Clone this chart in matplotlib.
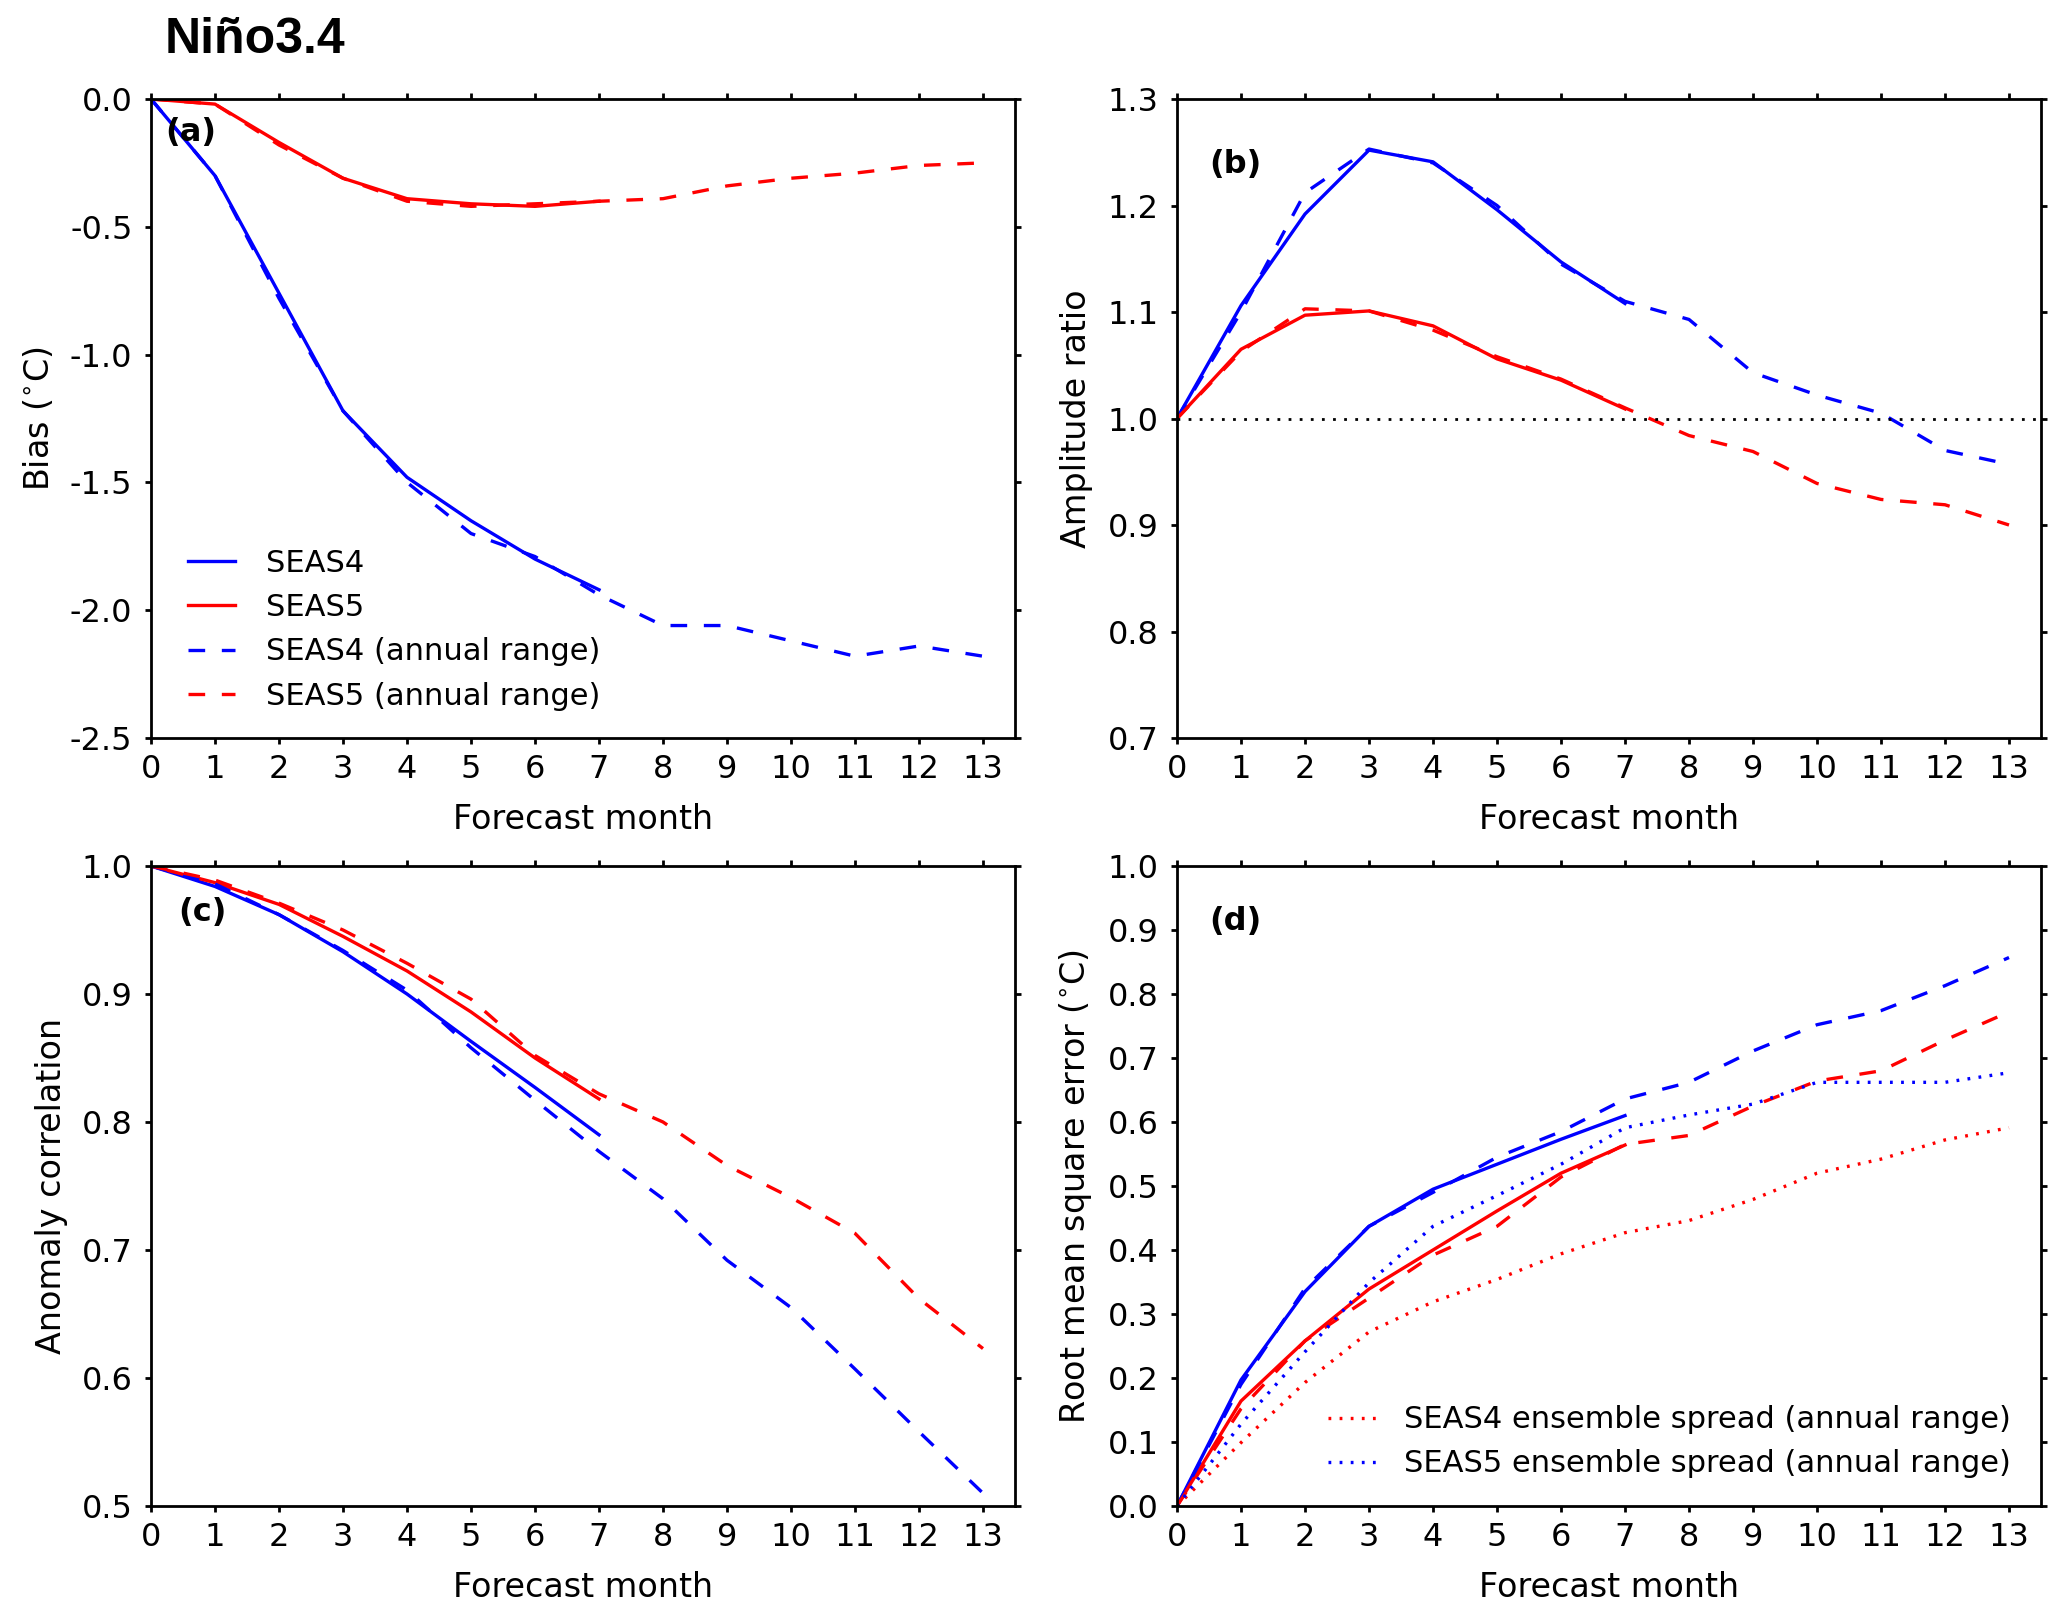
import matplotlib
matplotlib.use("Agg")
import matplotlib.pyplot as plt
import numpy as np

plt.rcParams['font.family'] = ['DejaVu Sans']
plt.rcParams['axes.unicode_minus'] = False
plt.rcParams['lines.scale_dashes'] = False

# ---------------- data ----------------
months = [0, 1, 2, 3, 4, 5, 6, 7]
months_ext = [0, 1, 2, 3, 4, 5, 6, 7, 8, 9, 10, 11, 12, 13]
xticks = list(range(14))

# (a) bias
bias_s4 = [0.0, -0.30, -0.76, -1.22, -1.48, -1.65, -1.80, -1.92]
bias_s5 = [0.0, -0.02, -0.17, -0.31, -0.39, -0.41, -0.42, -0.40]
bias_s4_ann = [0.0, -0.30, -0.78, -1.22, -1.50, -1.70, -1.79, -1.94, -2.06, -2.06, -2.12, -2.18, -2.14, -2.18]
bias_s5_ann = [0.0, -0.02, -0.18, -0.31, -0.40, -0.42, -0.41, -0.40, -0.39, -0.34, -0.31, -0.29, -0.26, -0.25]

# (b) amplitude ratio
amp_s4 = [1.0, 1.106, 1.192, 1.252, 1.241, 1.196, 1.147, 1.108]
amp_s5 = [1.0, 1.065, 1.097, 1.101, 1.087, 1.056, 1.036, 1.009]
amp_s4_ann = [1.0, 1.10, 1.212, 1.253, 1.240, 1.200, 1.145, 1.110, 1.093, 1.043, 1.022, 1.005, 0.970, 0.957]
amp_s5_ann = [1.0, 1.063, 1.103, 1.101, 1.083, 1.058, 1.037, 1.010, 0.984, 0.969, 0.939, 0.924, 0.919, 0.900]

# (c) anomaly correlation
acc_s4 = [1.0, 0.984, 0.962, 0.933, 0.900, 0.863, 0.827, 0.790]
acc_s5 = [1.0, 0.987, 0.970, 0.945, 0.918, 0.886, 0.850, 0.818]
acc_s4_ann = [1.0, 0.986, 0.962, 0.934, 0.903, 0.858, 0.817, 0.777, 0.740, 0.692, 0.655, 0.607, 0.558, 0.510]
acc_s5_ann = [1.0, 0.989, 0.971, 0.950, 0.924, 0.896, 0.852, 0.822, 0.800, 0.766, 0.741, 0.713, 0.662, 0.623]

# (d) RMSE and spread
rmse_s4 = [0.0, 0.197, 0.335, 0.437, 0.495, 0.534, 0.573, 0.610]
rmse_s5 = [0.0, 0.164, 0.258, 0.339, 0.400, 0.461, 0.520, 0.564]
rmse_s4_ann = [0.0, 0.190, 0.340, 0.437, 0.490, 0.545, 0.585, 0.636, 0.662, 0.711, 0.752, 0.774, 0.813, 0.857]
rmse_s5_ann = [0.0, 0.152, 0.258, 0.325, 0.392, 0.437, 0.514, 0.565, 0.579, 0.625, 0.664, 0.680, 0.728, 0.772]
spread_s4_ann = [0.0, 0.099, 0.193, 0.272, 0.319, 0.354, 0.394, 0.427, 0.446, 0.479, 0.520, 0.542, 0.572, 0.591]
spread_s5_ann = [0.0, 0.128, 0.241, 0.349, 0.437, 0.485, 0.534, 0.591, 0.611, 0.628, 0.662, 0.662, 0.662, 0.677]

BLUE = '#0000ff'
RED = '#ff0000'
LW = 1.2
DASH = (6, 6)
DOT = (1, 3)
TICK_FS = 11.5
LAB_FS = 12
LEG_FS = 11

fig = plt.figure(figsize=(2067 / 200, 1616 / 200), dpi=200)

W, H = 2067.0, 1616.0
def rect(l, r, t, b):
    return [l / W, 1 - b / H, (r - l) / W, (b - t) / H]

ax_a = fig.add_axes(rect(151, 1015, 99, 738))
ax_b = fig.add_axes(rect(1177, 2041, 99, 738))
ax_c = fig.add_axes(rect(151, 1015, 866, 1506))
ax_d = fig.add_axes(rect(1177, 2041, 866, 1506))

def style(ax, ylim, yticks, ylabel, fmt='%.1f'):
    ax.set_xlim(0, 13.5)
    ax.set_ylim(*ylim)
    ax.set_xticks(xticks)
    ax.set_yticks(yticks)
    ax.set_yticklabels([fmt % v for v in yticks])
    ax.tick_params(direction='out', length=2.2, width=1, labelsize=TICK_FS,
                   top=True, right=True, pad=3.5)
    ax.tick_params(axis='y', pad=4.5)
    for s in ax.spines.values():
        s.set_linewidth(1.0)
    ax.set_xlabel('Forecast month', fontsize=LAB_FS, labelpad=6.5)
    ax.set_ylabel(ylabel, fontsize=LAB_FS, labelpad=5)

# (a)
ax_a.plot(months, bias_s4, color=BLUE, lw=LW, label='SEAS4')
ax_a.plot(months, bias_s5, color=RED, lw=LW, label='SEAS5')
ax_a.plot(months_ext, bias_s4_ann, color=BLUE, lw=LW, dashes=DASH, label='SEAS4 (annual range)')
ax_a.plot(months_ext, bias_s5_ann, color=RED, lw=LW, dashes=DASH, label='SEAS5 (annual range)')
style(ax_a, (-2.5, 0.0), np.arange(-2.5, 0.01, 0.5), r'Bias ($^{\circ}$C)')
ax_a.legend(loc='lower left', bbox_to_anchor=(0.011, 0.0), frameon=False,
            fontsize=LEG_FS, handlelength=1.55, handletextpad=1.0, labelspacing=0.5)
ax_a.text(0.016, 0.947, '(a)', transform=ax_a.transAxes, fontsize=11.5,
          fontweight='bold', va='center', ha='left')

# (b)
ax_b.plot(months, amp_s4, color=BLUE, lw=LW)
ax_b.plot(months, amp_s5, color=RED, lw=LW)
ax_b.plot(months_ext, amp_s4_ann, color=BLUE, lw=LW, dashes=DASH)
ax_b.plot(months_ext, amp_s5_ann, color=RED, lw=LW, dashes=DASH)
ax_b.axhline(1.0, color='black', lw=1.0, dashes=DOT)
style(ax_b, (0.7, 1.3), np.arange(0.7, 1.301, 0.1), 'Amplitude ratio')
ax_b.text(0.037, 0.898, '(b)', transform=ax_b.transAxes, fontsize=11.5,
          fontweight='bold', va='center', ha='left')

# (c)
ax_c.plot(months, acc_s4, color=BLUE, lw=LW)
ax_c.plot(months, acc_s5, color=RED, lw=LW)
ax_c.plot(months_ext, acc_s4_ann, color=BLUE, lw=LW, dashes=DASH)
ax_c.plot(months_ext, acc_s5_ann, color=RED, lw=LW, dashes=DASH)
style(ax_c, (0.5, 1.0), np.arange(0.5, 1.001, 0.1), 'Anomaly correlation')
ax_c.text(0.032, 0.927, '(c)', transform=ax_c.transAxes, fontsize=11.5,
          fontweight='bold', va='center', ha='left')

# (d)
ax_d.plot(months, rmse_s4, color=BLUE, lw=LW)
ax_d.plot(months, rmse_s5, color=RED, lw=LW)
ax_d.plot(months_ext, rmse_s4_ann, color=BLUE, lw=LW, dashes=DASH)
ax_d.plot(months_ext, rmse_s5_ann, color=RED, lw=LW, dashes=DASH)
ax_d.plot(months_ext, spread_s4_ann, color=RED, lw=LW, dashes=DOT,
          label='SEAS4 ensemble spread (annual range)')
ax_d.plot(months_ext, spread_s5_ann, color=BLUE, lw=LW, dashes=DOT,
          label='SEAS5 ensemble spread (annual range)')
style(ax_d, (0.0, 1.0), np.arange(0.0, 1.001, 0.1), r'Root mean square error ($^{\circ}$C)')
ax_d.legend(loc='lower right', bbox_to_anchor=(0.997, 0.0), frameon=False,
            fontsize=LEG_FS, handlelength=1.6, handletextpad=0.9, labelspacing=0.5)
ax_d.text(0.037, 0.914, '(d)', transform=ax_d.transAxes, fontsize=11.5,
          fontweight='bold', va='center', ha='left')

fig.text(165 / W, 1 - 40 / H, 'Niño3.4', fontsize=18, fontweight='bold',
         family=['Liberation Sans', 'DejaVu Sans'], ha='left', va='center')

fig.savefig('out.png', dpi=200)
